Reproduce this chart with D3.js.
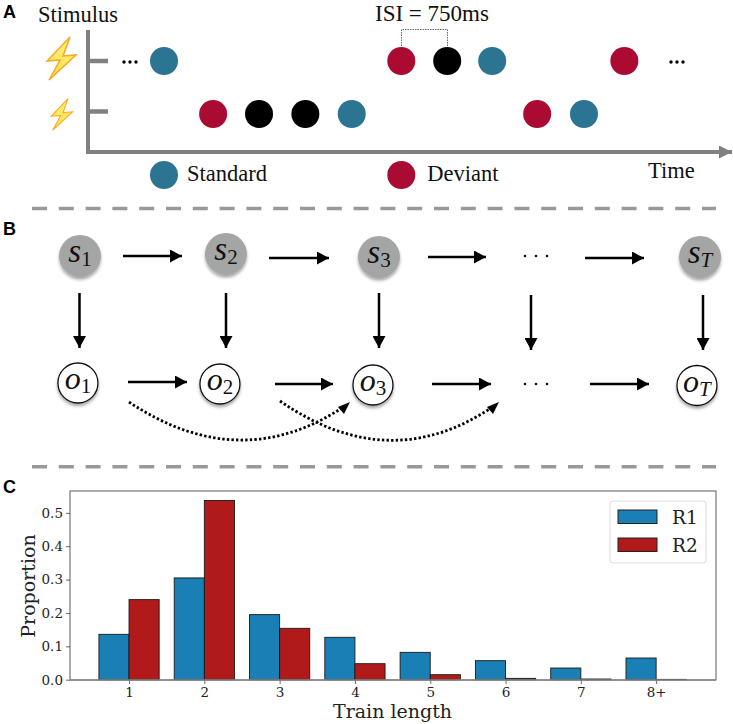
<!DOCTYPE html>
<html><head><meta charset="utf-8">
<script src="https://cdn.jsdelivr.net/npm/d3@7"></script>
<style>html,body{margin:0;padding:0;background:#fff}svg{display:block}</style>
</head><body><svg id="c" width="733" height="724"></svg>
<script>
// Panel A: stimulus events, time in ISI units
const highRowTimes=[0,5.17,6.17,7.15,10.03];
const highRowKinds=["standard","deviant","other","standard","deviant"];
const lowRowTimes=[1.07,2.07,3.08,4.09,8.13,9.15];
const lowRowKinds=["deviant","other","other","standard","deviant","standard"];
const legendTimes=[0,5.17];
const legendKinds=["standard","deviant"];
const legendNames=["Standard","Deviant"];
// Panel B: graph columns
const stateCols=[0,0.993,2.034,4.218];
const stateNames=["s","s","s","s"];
const stateSubs=["1","2","3","T"];
const obsCols=[-0.014,0.952,1.993,4.197];
const obsSubs=["1","2","3","T"];
// Panel C
const trainLengths=["1","2","3","4","5","6","7","8+"];
const r1Values=[0.136,0.305,0.195,0.127,0.082,0.057,0.035,0.065];
const r2Values=[0.240,0.537,0.154,0.048,0.015,0.004,0.002,0.001];
const yTicks=[0,0.1,0.2,0.3,0.4,0.5];

const svg=d3.select("#c");
const defs=svg.append("defs");
const SERIF="'Liberation Serif',serif", DV="'DejaVu Serif',serif";
const grey="#808080";
const kindColor={standard:"#2b7492",deviant:"#ab0a32",other:"#000"};

function marker(id,fill,len,h){
  defs.append("marker").attr("id",id).attr("viewBox",`0 0 ${len} ${h}`).attr("refX",len).attr("refY",h/2)
   .attr("markerUnits","userSpaceOnUse").attr("markerWidth",len).attr("markerHeight",h).attr("orient","auto")
   .append("path").attr("d",`M0,0L${len},${h/2}L0,${h}Z`).attr("fill",fill);
}
marker("ah","#000",12,13);
marker("ag",grey,13,13);
const grad=defs.append("linearGradient").attr("id","bolt").attr("x1",0).attr("y1",0).attr("x2",0).attr("y2",1);
grad.append("stop").attr("offset","0").attr("stop-color","#fff27a");
grad.append("stop").attr("offset","1").attr("stop-color","#ffdf4d");
const sh=defs.append("filter").attr("id","sh").attr("x","-30%").attr("y","-30%").attr("width","160%").attr("height","170%");
sh.append("feDropShadow").attr("dx",0).attr("dy",2.5).attr("stdDeviation",1.6).attr("flood-color","#000").attr("flood-opacity",.35);

function text(g,x,y,s,o={}){
  return g.append("text").attr("x",x).attr("y",y).text(s)
   .attr("font-family",o.f||SERIF).attr("font-size",o.s||22.5).attr("fill",o.c||"#111")
   .attr("font-weight",o.w||null).attr("font-style",o.i?"italic":null).attr("text-anchor",o.a||"start");
}
[["A",3,18],["B",3,234.5],["C",3,493]].forEach(d=>text(svg,d[1],d[2],d[0],{f:"'Liberation Sans',sans-serif",s:18,w:700,c:"#000"}));

// ===== Panel A
const A=svg.append("g");
const tx=d3.scaleLinear().domain([0,1]).range([164,209.9]);
A.append("line").attr("x1",88).attr("x2",88).attr("y1",30).attr("y2",154).attr("stroke",grey).attr("stroke-width",4);
A.append("line").attr("x1",86).attr("x2",732).attr("y1",152).attr("y2",152).attr("stroke",grey).attr("stroke-width",4).attr("marker-end","url(#ag)");
A.selectAll(".tk").data([61,111.5]).join("line").attr("x1",88).attr("x2",108).attr("y1",d=>d).attr("y2",d=>d).attr("stroke",grey).attr("stroke-width",4.5);
function dots(g,times,kinds,y){
  g.selectAll(null).data(times).join("circle").attr("cx",d=>tx(d)).attr("cy",y).attr("r",14).attr("fill",(d,i)=>kindColor[kinds[i]]);
}
dots(A,highRowTimes,highRowKinds,61);
dots(A,lowRowTimes,lowRowKinds,114);
dots(A,legendTimes,legendKinds,175);
legendNames.forEach((n,i)=>text(A,tx(legendTimes[i])+(i?26:23),181,n));
text(A,38,22,"Stimulus");
text(A,375,21,"ISI = 750ms",{s:23});
text(A,648,178,"Time");
A.append("path").attr("d","M401.5,46V29.5H447.5V46").attr("fill","none").attr("stroke","#444").attr("stroke-width",.8).attr("stroke-dasharray","1.5 1");
[124,130,136,671,677,683].forEach(x=>A.append("circle").attr("cx",x).attr("cy",62).attr("r",1.7).attr("fill","#000"));
const boltPath="M9,-21L-14,3L-1,2L-12,22L15,-3L2,-2Z";
[[61,58,1],[61.5,114,.73]].forEach(b=>{
  const g=A.append("g").attr("transform",`translate(${b[0]},${b[1]}) scale(${b[2]})`);
  g.append("path").attr("d",boltPath).attr("fill","url(#bolt)").attr("stroke","#f9a825").attr("stroke-width",1.5).attr("stroke-linejoin","miter");
});

[208.5,466.7].forEach(y=>svg.append("line").attr("x1",32).attr("x2",716).attr("y1",y).attr("y2",y)
  .attr("stroke","#999").attr("stroke-width",3.5).attr("stroke-dasharray","15 11.8"));

// ===== Panel B
const B=svg.append("g");
const cx=d3.scaleLinear().domain([0,1]).range([80,227]);
const stateY=[256,254,257,257], obsY=[383,384,385,385.5];
function label(g,x,y,main,sub,size){
  const t=g.append("text").attr("x",x).attr("y",y).attr("text-anchor","middle").attr("font-family",SERIF).attr("fill","#111");
  t.append("tspan").text(main).attr("font-style","italic").attr("font-size",size);
  t.append("tspan").text(sub).attr("font-size",21).attr("dy",4).attr("font-style",sub==="T"?"italic":null);
}
stateCols.forEach((c,i)=>{
  B.append("circle").attr("cx",cx(c)).attr("cy",stateY[i]).attr("r",21).attr("fill","#a3a6a5").attr("filter","url(#sh)");
  label(B,cx(c),stateY[i]+6,stateNames[i],stateSubs[i],33);
});
obsCols.forEach((c,i)=>{
  B.append("circle").attr("cx",cx(c)).attr("cy",obsY[i]).attr("r",20).attr("fill","#fff").attr("stroke","#111").attr("stroke-width",1.3).attr("filter","url(#sh)");
  label(B,cx(c),obsY[i]+6,"o",obsSubs[i],32);
});
[[536,251],[536,379]].forEach(p=>[-11,0,11].forEach(d=>B.append("circle").attr("cx",p[0]+d).attr("cy",p[1]+5).attr("r",1.3).attr("fill","#111")));
const arrows=[[123,256,182,256],[269,258,329,258],[428,257,486,257],[585,258,644,258],
 [79.5,293,79.5,348],[226,293,226,348],[379,293,379,348],[531,295,531,350],[703,295,703,350],
 [128,382,187,382],[275,384,333,384],[432,384,491,384],[590,384,649,384]];
B.selectAll(".ar").data(arrows).join("line").attr("x1",d=>d[0]).attr("y1",d=>d[1]).attr("x2",d=>d[2]).attr("y2",d=>d[3])
 .attr("stroke","#000").attr("stroke-width",2.5).attr("marker-end","url(#ah)");
[[129,402,240,476,350,402],[280,401,390,477,499,402]].forEach(c=>{
  B.append("path").attr("d",`M${c[0]},${c[1]}Q${c[2]},${c[3]} ${c[4]-5},${c[5]+4}`).attr("fill","none").attr("stroke","#000").attr("stroke-width",2.8).attr("stroke-dasharray","2.4 2.2");
  B.append("path").attr("d",`M${c[4]-12},${c[5]+5}L${c[4]},${c[5]}L${c[4]-6},${c[5]+12}Z`).attr("fill","#000");
});

// ===== Panel C
const L=70,R=716,T=491,Bm=680;
const C=svg.append("g");
const x=d3.scaleLinear().domain([-0.784,7.795]).range([L,R]);
const y=d3.scaleLinear().domain([0,0.5655]).range([Bm-0.3,T]);
const bw=x(0.4)-x(0);
const gx=C.append("g").attr("transform",`translate(0,${Bm})`).call(d3.axisBottom(x).tickValues(d3.range(8)).tickFormat(i=>trainLengths[i]).tickSize(4));
const gy=C.append("g").attr("transform",`translate(${L},0)`).call(d3.axisLeft(y).tickValues(yTicks).tickFormat(d3.format(".1f")).tickSize(4));
[gx,gy].forEach(g=>{g.select(".domain").remove();g.selectAll("text").attr("font-family",DV).attr("font-size",13.5).attr("fill","#222");g.selectAll("line").attr("stroke","#444").attr("stroke-width",.8);});
function bars(vals,off,col){
  C.selectAll(null).data(vals).join("rect").attr("x",(d,i)=>x(i+off)).attr("width",bw)
   .attr("y",d=>y(d)).attr("height",d=>y(0)-y(d)).attr("fill",col).attr("stroke","#1a1a1a").attr("stroke-width",.9);
}
bars(r1Values,-0.4,"#1a7fb5");
bars(r2Values,0,"#b01a1a");
C.append("rect").attr("x",L).attr("y",T).attr("width",R-L).attr("height",Bm-T).attr("fill","none").attr("stroke","#333").attr("stroke-width",.8);
C.append("line").attr("x1",L).attr("x2",R).attr("y1",Bm).attr("y2",Bm).attr("stroke","#888").attr("stroke-width",1.4);
text(C,392.5,718,"Train length",{f:DV,s:19,a:"middle",c:"#222"});
C.append("text").attr("transform","translate(35,586) rotate(-90)").attr("text-anchor","middle").attr("font-family",DV).attr("font-size",19).attr("fill","#222").text("Proportion");
C.append("rect").attr("x",610).attr("y",501).attr("width",96).attr("height",62).attr("rx",3).attr("fill","#fff").attr("stroke","#ddd").attr("stroke-width",1);
[["R1","#1a7fb5",510],["R2","#b01a1a",538]].forEach(d=>{
  C.append("rect").attr("x",618).attr("y",d[2]).attr("width",39).attr("height",13.5).attr("fill",d[1]).attr("stroke","#222").attr("stroke-width",1);
  text(C,672,d[2]+14,d[0],{f:DV,s:18.5,c:"#222"});
});
</script></body></html>
